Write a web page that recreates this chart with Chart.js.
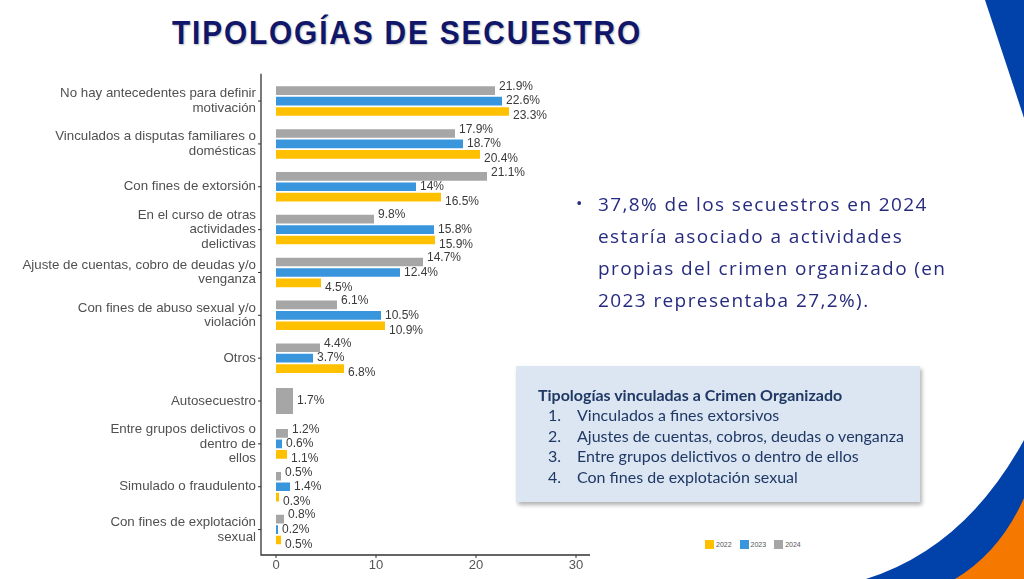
<!DOCTYPE html>
<html lang="es">
<head>
<meta charset="utf-8">
<title>Tipologías de secuestro</title>
<script src="https://cdn.jsdelivr.net/npm/chart.js@4.4.1/dist/chart.umd.min.js"></script>
<style>
  body { margin: 0; width: 1024px; height: 579px; overflow: hidden; background: #fff; position: relative; font-family: "Liberation Sans", Arial, sans-serif; }
  #deco { position: absolute; left: 0; top: 0; }
  #titulo { position: absolute; left: 172px; top: 14px; font: bold 33px "Liberation Sans", Arial, sans-serif; letter-spacing: 2px; color: #10176a; white-space: nowrap; transform-origin: 0 0; text-shadow: 1px 1px 2px rgba(0,0,0,0.25); }
  #grafico { position: absolute; left: 0; top: 60px; width: 600px; height: 519px; }
  #texto { position: absolute; left: 576px; top: 188px; font: 19px "Open Sans", sans-serif; letter-spacing: 1.4px; color: #262b7e; line-height: 32px; }
  #texto .bala { position: absolute; left: 0; top: -1px; font-size: 17px; }
  #texto .lineas { margin-left: 22px; white-space: nowrap; }
  #caja { position: absolute; left: 516px; top: 366px; width: 404px; height: 136px; background: #dce6f2; box-shadow: 2px 3px 4px rgba(0,0,0,0.3); font: 16px Lato, sans-serif; color: #1f3864; box-sizing: border-box; padding-top: 19px; }
  #caja b { display: block; margin-left: 22px; line-height: 20px; }
  #caja ol { margin: 0; padding: 0; list-style: none; }
  #caja li { line-height: 20.7px; position: relative; padding-left: 61px; }
  #caja li span { position: absolute; left: 32px; }
  #leyenda { position: absolute; left: 705px; top: 540px; font: 7px "Liberation Sans", Arial, sans-serif; color: #555; display: flex; align-items: center; }
  #leyenda i { display: inline-block; width: 9px; height: 9px; margin-right: 2px; }
  #leyenda span { margin-right: 8px; }
</style>
</head>
<body>
<svg id="deco" width="1024" height="579">
  <path d="M 985 0 L 1024 0 L 1024 118 Z" fill="#0041aa"/>
  <path d="M 866 579 Q 965 548 1024 440 L 1024 579 Z" fill="#0041aa"/>
  <path d="M 955 579 Q 1000 552 1024 498 L 1024 579 Z" fill="#f57800"/>
</svg>
<div id="titulo">TIPOLOGÍAS DE SECUESTRO</div>
<div id="grafico"><canvas id="barras"></canvas></div>
<div id="texto"><span class="bala">•</span><div class="lineas">37,8% de los secuestros en 2024<br>estaría asociado a actividades<br>propias del crimen organizado (en<br>2023 representaba 27,2%).</div></div>
<div id="caja">
  <b>Tipologías vinculadas a Crimen Organizado</b>
  <ol>
    <li><span>1.</span>Vinculados a fines extorsivos</li>
    <li><span>2.</span>Ajustes de cuentas, cobros, deudas o venganza</li>
    <li><span>3.</span>Entre grupos delictivos o dentro de ellos</li>
    <li><span>4.</span>Con fines de explotación sexual</li>
  </ol>
</div>
<div id="leyenda"><i style="background:#ffc000"></i><span>2022</span><i style="background:#3a96dc"></i><span>2023</span><i style="background:#a6a6a6"></i><span>2024</span></div>
<script>
// Categorías (etiquetas en varias líneas)
const categorias = [
    ['No hay antecedentes para definir', 'motivación'],
    ['Vinculados a disputas familiares o', 'domésticas'],
    ['Con fines de extorsión'],
    ['En el curso de otras', 'actividades', 'delictivas'],
    ['Ajuste de cuentas, cobro de deudas y/o', 'venganza'],
    ['Con fines de abuso sexual y/o', 'violación'],
    ['Otros'],
    ['Autosecuestro'],
    ['Entre grupos delictivos o', 'dentro de', 'ellos'],
    ['Simulado o fraudulento'],
    ['Con fines de explotación', 'sexual']
];

// Valores (%) por año
const valores2024 = [21.9, 17.9, 21.1, 9.8, 14.7, 6.1, 4.4, 1.7, 1.2, 0.5, 0.8];
const valores2023 = [22.6, 18.7, 14, 15.8, 12.4, 10.5, 3.7, null, 0.6, 1.4, 0.2];
const valores2022 = [23.3, 20.4, 16.5, 15.9, 4.5, 10.9, 6.8, null, 1.1, 0.3, 0.5];

const ticksX = [0, 10, 20, 30];

// Ajuste del título al ancho del original
const titulo = document.getElementById('titulo');
titulo.style.transform = 'scaleX(' + (470 / titulo.offsetWidth) + ')';

// Etiquetas de valor al final de cada barra
const etiquetas = {
    id: 'etiquetas',
    afterDatasetsDraw(chart) {
        const ctx = chart.ctx;
        const desplaz = [-4, 0, 4.5];
        ctx.save();
        ctx.font = '12px "Liberation Sans", Arial, sans-serif';
        ctx.fillStyle = '#3a3a3a';
        ctx.textAlign = 'left';
        ctx.textBaseline = 'middle';
        chart.data.datasets.forEach((ds, i) => {
            chart.getDatasetMeta(i).data.forEach((barra, j) => {
                const v = ds.data[j];
                if (v === null) return;
                const solo = chart.data.datasets.filter(d => d.data[j] !== null).length === 1;
                ctx.fillText(v + '%', barra.x + 4, barra.y + (solo ? 0 : desplaz[i]));
            });
        });
        ctx.restore();
    }
};

// Ejes al estilo del original (líneas un poco más largas que el área)
const ejes = {
    id: 'ejes',
    afterDraw(chart) {
        const { ctx, chartArea: a, scales: { x, y } } = chart;
        ctx.save();
        ctx.strokeStyle = '#333';
        ctx.lineWidth = 1.3;
        ctx.beginPath();
        ctx.moveTo(a.left, a.top - 6);
        ctx.lineTo(a.left, a.bottom + 4);
        ctx.lineTo(a.right, a.bottom + 4);
        ctx.stroke();
        ctx.lineWidth = 1;
        ctx.beginPath();
        y.ticks.forEach((t, i) => {
            const py = y.getPixelForTick(i);
            ctx.moveTo(a.left - 3, py);
            ctx.lineTo(a.left, py);
        });
        ticksX.forEach(v => {
            const px = x.getPixelForValue(v);
            ctx.moveTo(px, a.bottom + 4);
            ctx.lineTo(px, a.bottom + 7);
        });
        ctx.stroke();
        ctx.restore();
    }
};

new Chart(document.getElementById('barras'), {
    type: 'bar',
    data: {
        labels: categorias,
        datasets: [
            { label: '2024', data: valores2024, backgroundColor: '#a6a6a6' },
            { label: '2023', data: valores2023, backgroundColor: '#3a96dc' },
            { label: '2022', data: valores2022, backgroundColor: '#ffc000' }
        ]
    },
    options: {
        indexAxis: 'y',
        responsive: true,
        maintainAspectRatio: false,
        animation: false,
        skipNull: true,
        categoryPercentage: 0.73,
        barPercentage: 0.83,
        layout: { padding: { top: 14, right: 10, left: 0, bottom: 0 } },
        scales: {
            x: {
                min: -1.5,
                max: 31.4,
                afterBuildTicks: scale => { scale.ticks = ticksX.map(v => ({ value: v })); },
                afterFit: scale => { scale.height = 28; },
                grid: { display: false, drawTicks: false },
                border: { display: false },
                ticks: { padding: 7, color: '#555', font: { family: '"Liberation Sans", Arial, sans-serif', size: 13 } }
            },
            y: {
                afterFit: scale => { scale.width = 261; },
                grid: { display: false, drawTicks: false },
                border: { display: false },
                ticks: { padding: 5, color: '#505050', autoSkip: false, font: { family: '"Liberation Sans", Arial, sans-serif', size: 13.3, lineHeight: 1.1 } }
            }
        },
        plugins: {
            legend: { display: false },
            tooltip: { enabled: false }
        }
    },
    plugins: [etiquetas, ejes]
});
</script>
</body>
</html>
